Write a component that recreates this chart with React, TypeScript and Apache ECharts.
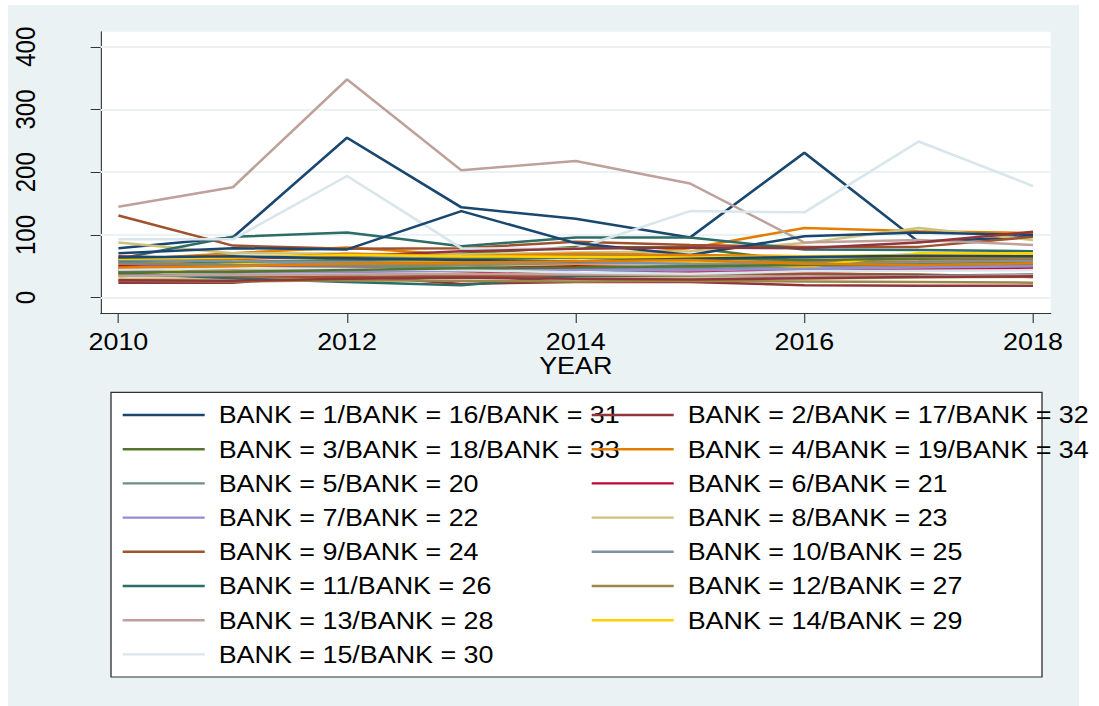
import React, { useEffect, useRef } from "react";
import * as echarts from "echarts";

// Panel of bank values by year (xtline overlay style).
const YEARS = [2010, 2011, 2012, 2013, 2014, 2015, 2016, 2017, 2018];
const X_TICKS = [2010, 2012, 2014, 2016, 2018];
const Y_TICKS = [0, 100, 200, 300, 400];
const X_TITLE = "YEAR";

// s2color pen sequence, reused every 15 banks
const PALETTE = [
  "#1a476f", "#90353b", "#55752f", "#e37e00", "#6e8e84",
  "#c10534", "#938dd2", "#cac27e", "#a0522d", "#7b92a8",
  "#2d6d66", "#9c8847", "#bfa19c", "#ffd200", "#d9e6eb",
];

const BANK_1 = [79, 96, 255, 144, 126, 96, 231, 89, 97];
const BANK_2 = [24, 24, 36, 22, 25, 25, 20, 19, 19];
const BANK_3 = [43, 46, 55, 70, 81, 80, 57, 64, 64];
const BANK_4 = [60, 71, 80, 68, 63, 79, 111, 106, 103];
const BANK_5 = [62, 63, 64, 66, 68, 67, 64, 69, 71];
const BANK_6 = [46, 45, 48, 47, 50, 48, 41, 48, 47];
const BANK_7 = [48, 52, 56, 45, 44, 52, 55, 58, 62];
const BANK_8 = [88, 71, 70, 69, 72, 74, 87, 111, 92];
const BANK_9 = [131, 83, 78, 79, 89, 84, 81, 81, 97];
const BANK_10 = [55, 56, 55, 53, 38, 45, 50, 52, 56];
const BANK_11 = [62, 97, 104, 82, 96, 96, 77, 76, 74];
const BANK_12 = [45, 43, 50, 52, 54, 56, 58, 57, 58];
const BANK_13 = [145, 176, 348, 203, 218, 182, 88, 92, 84];
const BANK_14 = [33, 55, 60, 57, 55, 57, 49, 71, 71];
const BANK_15 = [93, 93, 194, 79, 78, 138, 136, 249, 178];
const BANK_16 = [71, 79, 77, 138, 87, 68, 98, 104, 100];
const BANK_17 = [66, 62, 66, 74, 78, 80, 79, 88, 105];
const BANK_18 = [58, 57, 60, 62, 64, 63, 60, 62, 63];
const BANK_19 = [52, 62, 70, 66, 70, 68, 66, 65, 64];
const BANK_20 = [55, 52, 50, 48, 46, 47, 45, 50, 52];
const BANK_21 = [50, 48, 47, 42, 38, 40, 41, 45, 46];
const BANK_22 = [42, 40, 41, 43, 45, 44, 46, 48, 50];
const BANK_23 = [30, 31, 33, 34, 32, 33, 30, 32, 33];
const BANK_24 = [36, 34, 33, 35, 34, 36, 38, 37, 33];
const BANK_25 = [60, 58, 57, 55, 56, 54, 53, 55, 58];
const BANK_26 = [39, 31, 25, 20, 35, 36, 33, 35, 37];
const BANK_27 = [27, 26, 28, 27, 26, 27, 26, 25, 24];
const BANK_28 = [35, 36, 37, 38, 37, 36, 33, 34, 36];
const BANK_29 = [62, 64, 68, 66, 65, 64, 66, 68, 70];
const BANK_30 = [45, 47, 46, 44, 40, 38, 42, 43, 44];
const BANK_31 = [64, 66, 63, 60, 58, 62, 65, 67, 66];
const BANK_32 = [28, 27, 30, 32, 30, 29, 31, 33, 34];
const BANK_33 = [40, 41, 44, 47, 48, 50, 52, 53, 55];
const BANK_34 = [48, 50, 54, 56, 58, 60, 54, 52, 55];

const BANKS = [
  BANK_1, BANK_2, BANK_3, BANK_4, BANK_5, BANK_6, BANK_7, BANK_8, BANK_9,
  BANK_10, BANK_11, BANK_12, BANK_13, BANK_14, BANK_15, BANK_16, BANK_17,
  BANK_18, BANK_19, BANK_20, BANK_21, BANK_22, BANK_23, BANK_24, BANK_25,
  BANK_26, BANK_27, BANK_28, BANK_29, BANK_30, BANK_31, BANK_32, BANK_33,
  BANK_34,
];

// Banks sharing a pen share one legend key
const GROUP_NAMES = PALETTE.map((_, k) =>
  [k + 1, k + 16, k + 31]
    .filter((b) => b <= BANKS.length)
    .map((b) => `BANK = ${b}`)
    .join("/")
);

// Horizontal stretch applied to the whole drawing
const SX = 1.12;
const W = 1099;
const H = 706;
const FONT = "'Liberation Sans', Arial, Helvetica, sans-serif";
const BG = "#EAF2F3";
const AXIS = "#333333";

export default function App() {
  const ref = useRef<HTMLDivElement | null>(null);

  useEffect(() => {
    if (!ref.current) return;
    const chart = echarts.init(ref.current, undefined, { renderer: "svg" });

    const series: any[] = [
      {
        type: "line",
        name: "gridlines",
        data: [],
        silent: true,
        z: 1,
        markLine: {
          silent: true,
          z: 1,
          symbol: ["none", "none"],
          label: { show: false },
          lineStyle: { color: BG, width: 2, type: "solid" },
          emphasis: { disabled: true },
          data: Y_TICKS.map((v) => ({ yAxis: v })),
          animation: false,
        },
      },
      ...BANKS.map((vals, i) => {
        const c = PALETTE[i % PALETTE.length];
        return {
          type: "line",
          name: GROUP_NAMES[i % PALETTE.length],
          data: vals.map((v, j) => [YEARS[j], v]),
          symbol: "none",
          showSymbol: false,
          color: c,
          itemStyle: { color: c },
          lineStyle: { color: c, width: 2.5 },
          emphasis: { disabled: true },
          silent: true,
          z: 2,
        };
      }),
    ];

    const legendCommon = {
      orient: "vertical",
      top: 403,
      padding: 0,
      itemGap: 10.2,
      icon: "rect",
      itemWidth: 82 / SX,
      itemHeight: 2.4,
      selectedMode: false,
      inactiveColor: "#000",
      textStyle: {
        fontFamily: FONT,
        fontSize: 24,
        lineHeight: 24,
        color: "#000",
        padding: [0, 0, 0, 14 / SX - 5],
      },
    };

    chart.setOption({
      animation: false,
      backgroundColor: "transparent",
      textStyle: { fontFamily: FONT },
      grid: {
        left: 100.7 / SX,
        right: W / SX - 1051 / SX,
        top: 31.7,
        bottom: H - 313,
        show: true,
        backgroundColor: "#ffffff",
        borderWidth: 0,
        containLabel: false,
        outerBoundsMode: "none",
      },
      xAxis: {
        type: "value",
        min: 2009.845,
        max: 2018.155,
        name: X_TITLE,
        nameLocation: "middle",
        nameGap: 41,
        nameMoveOverlap: false,
        nameTextStyle: { fontFamily: FONT, fontSize: 24, color: "#000", lineHeight: 24 },
        axisLine: { show: true, onZero: false, lineStyle: { color: AXIS, width: 1 } },
        axisTick: {
          show: true,
          length: 10,
          customValues: X_TICKS,
          lineStyle: { color: AXIS, width: 1 },
        },
        axisLabel: {
          customValues: X_TICKS,
          margin: 17,
          fontFamily: FONT,
          fontSize: 24,
          lineHeight: 24,
          color: "#000",
          formatter: (v: number) => String(v),
        },
        splitLine: { show: false },
      },
      yAxis: {
        type: "value",
        min: -24.4,
        max: 424,
        axisLine: { show: true, onZero: false, lineStyle: { color: AXIS, width: 1 } },
        axisTick: {
          show: true,
          length: 10 / SX,
          customValues: Y_TICKS,
          lineStyle: { color: AXIS, width: 1 },
        },
        axisLabel: {
          customValues: Y_TICKS,
          rotate: 90,
          margin: (100.7 - 39) / SX,
          fontFamily: FONT,
          fontSize: 24,
          lineHeight: 24,
          color: "#000",
          formatter: (v: number) => String(v),
        },
        splitLine: { show: false },
      },
      legend: [
        {
          ...legendCommon,
          left: 122.7 / SX,
          data: GROUP_NAMES.filter((_, k) => k % 2 === 0),
        },
        {
          ...legendCommon,
          left: 591.7 / SX,
          data: GROUP_NAMES.filter((_, k) => k % 2 === 1),
        },
      ],
      graphic: [
        {
          type: "rect",
          silent: true,
          z: 1,
          shape: {
            x: 111 / SX,
            y: 392.3,
            width: (1042 - 111) / SX,
            height: 677 - 392.3,
          },
          style: { fill: "#ffffff", stroke: AXIS, lineWidth: 1.2 },
        },
      ],
      series,
    });

    return () => {
      chart.dispose();
    };
  }, []);

  return (
    <div
      style={{
        position: "fixed",
        left: 0,
        top: 0,
        width: W,
        height: H,
        overflow: "hidden",
        background: "#ffffff",
      }}
    >
      <div
        style={{
          position: "absolute",
          left: 8,
          top: 5,
          width: 1071,
          height: 701,
          background: BG,
        }}
      />
      <div
        ref={ref}
        style={{
          position: "absolute",
          left: 0,
          top: 0,
          width: W / SX,
          height: H,
          transform: `scaleX(${SX})`,
          transformOrigin: "0 0",
        }}
      />
    </div>
  );
}
